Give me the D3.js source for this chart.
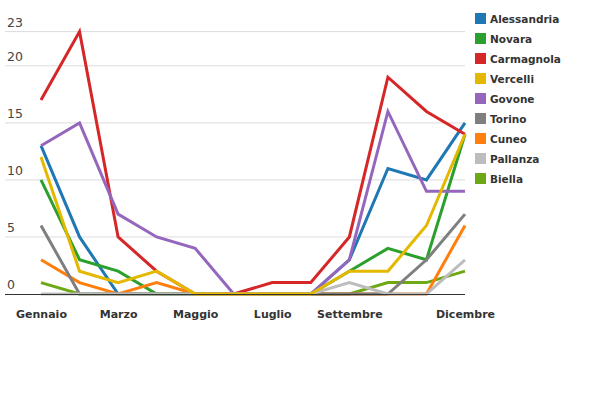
<!DOCTYPE html>
<html>
<head>
<meta charset="utf-8">
<script src="https://cdn.jsdelivr.net/npm/d3@7"></script>
<style>
  body { margin: 0; background: #fff; }
  text { font-family: "DejaVu Sans", sans-serif; }
</style>
</head>
<body>
<svg id="chart" width="600" height="400"></svg>
<script>
// months and which ones get a label
var months = ["Gennaio", "Febbraio", "Marzo", "Aprile", "Maggio", "Giugno",
  "Luglio", "Agosto", "Settembre", "Ottobre", "Novembre", "Dicembre"];
var shownMonths = ["Gennaio", "Marzo", "Maggio", "Luglio", "Settembre", "Dicembre"];
var yTicks = [0, 5, 10, 15, 20, 23];

var cities = ["Alessandria", "Novara", "Carmagnola", "Vercelli", "Govone",
  "Torino", "Cuneo", "Pallanza", "Biella"];
var colors = ["#1f77b4", "#2ca02c", "#d62728", "#e5b800", "#9467bd",
  "#7f7f7f", "#ff7f0e", "#bdbdbd", "#6ea814"];

var alessandria = [13, 5, 0, 0, 0, 0, 0, 0, 3, 11, 10, 15];
var novara      = [10, 3, 2, 0, 0, 0, 0, 0, 2, 4, 3, 14];
var carmagnola  = [17, 23, 5, 2, 0, 0, 1, 1, 5, 19, 16, 14];
var vercelli    = [12, 2, 1, 2, 0, 0, 0, 0, 2, 2, 6, 14];
var govone      = [13, 15, 7, 5, 4, 0, 0, 0, 3, 16, 9, 9];
var torino      = [6, 0, 0, 0, 0, 0, 0, 0, 0, 0, 3, 7];
var cuneo       = [3, 1, 0, 1, 0, 0, 0, 0, 0, 0, 0, 6];
var pallanza    = [0, 0, 0, 0, 0, 0, 0, 0, 1, 0, 0, 3];
var biella      = [1, 0, 0, 0, 0, 0, 0, 0, 0, 1, 1, 2];

var seriesValues = [alessandria, novara, carmagnola, vercelli, govone,
  torino, cuneo, pallanza, biella];
// drawing order (bottom to top)
var drawOrder = ["Alessandria", "Novara", "Carmagnola", "Govone", "Biella",
  "Cuneo", "Torino", "Pallanza", "Vercelli"];

var series = cities.map(function (c, i) {
  return { name: c, color: colors[i], values: seriesValues[i] };
});

var svg = d3.select("#chart");
var left = 41, right = 465, top_ = 31.6, bottom = 294;

var x = d3.scalePoint().domain(months).range([left, right]);
var y = d3.scaleLinear().domain([0, 23]).range([bottom, top_]);

// gridlines + y labels
var grid = svg.append("g");
grid.selectAll("line")
  .data(yTicks.filter(function (d) { return d > 0; }))
  .enter().append("line")
  .attr("x1", 5).attr("x2", right)
  .attr("y1", function (d) { return y(d); })
  .attr("y2", function (d) { return y(d); })
  .attr("stroke", "#dcdcdc")
  .attr("stroke-width", 1);

grid.selectAll("text")
  .data(yTicks)
  .enter().append("text")
  .attr("x", 7)
  .attr("y", function (d) { return y(d) - 5; })
  .attr("font-size", 12.5)
  .attr("fill", "#444")
  .text(function (d) { return d; });

// x axis labels
var xAxis = svg.append("g")
  .attr("transform", "translate(0,310)")
  .call(d3.axisBottom(x).tickValues(shownMonths).tickSize(0).tickPadding(0));
xAxis.select(".domain").remove();
xAxis.selectAll("text")
  .attr("font-family", "DejaVu Sans, sans-serif")
  .attr("font-size", 11)
  .attr("font-weight", "bold")
  .attr("fill", "#333")
  .attr("dy", "0.75em");

// lines
var line = d3.line()
  .x(function (d, i) { return x(months[i]); })
  .y(function (d) { return y(d); });

var ordered = drawOrder.map(function (n) {
  return series.find(function (s) { return s.name === n; });
});

svg.append("g").selectAll("path")
  .data(ordered)
  .enter().append("path")
  .attr("d", function (d) { return line(d.values); })
  .attr("fill", "none")
  .attr("stroke", function (d) { return d.color; })
  .attr("stroke-width", 3)
  .attr("stroke-linejoin", "miter");

// baseline
svg.append("line")
  .attr("x1", 5).attr("x2", right)
  .attr("y1", y(0) + 0.5).attr("y2", y(0) + 0.5)
  .attr("stroke", "#333")
  .attr("stroke-width", 1);

// legend
var legend = svg.append("g").attr("transform", "translate(475,13)");
var item = legend.selectAll("g")
  .data(series)
  .enter().append("g")
  .attr("transform", function (d, i) { return "translate(0," + (i * 20) + ")"; });
item.append("rect")
  .attr("width", 11).attr("height", 11)
  .attr("fill", function (d) { return d.color; });
item.append("text")
  .attr("x", 15).attr("y", 10)
  .attr("font-size", 10.5)
  .attr("font-weight", "bold")
  .attr("fill", "#333")
  .text(function (d) { return d.name; });
</script>
</body>
</html>
